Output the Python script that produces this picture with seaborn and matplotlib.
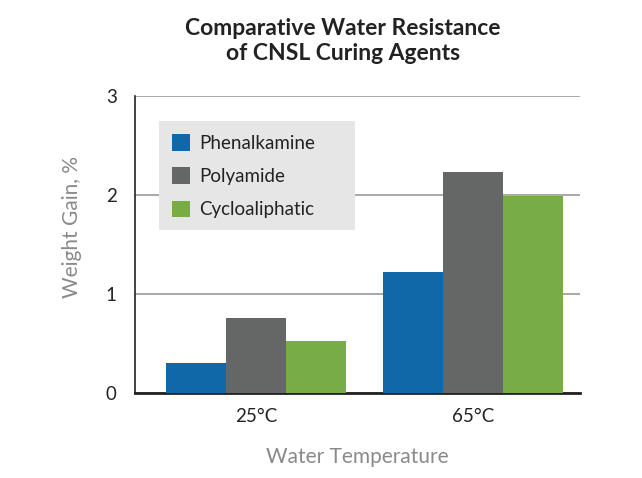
import matplotlib
matplotlib.use("Agg")
import matplotlib.pyplot as plt
from matplotlib.patches import Rectangle
import seaborn as sns
import pandas as pd

categories = ["25°C", "65°C"]
series = ["Phenalkamine", "Polyamide", "Cycloaliphatic"]
phenalkamine = [0.30, 1.22]
polyamide = [0.76, 2.23]
cycloaliphatic = [0.52, 1.99]
yticks = [0, 1, 2, 3]

rows = []
for s, vals in zip(series, [phenalkamine, polyamide, cycloaliphatic]):
    for c, v in zip(categories, vals):
        rows.append({"temp": c, "agent": s, "gain": v})
df = pd.DataFrame(rows)

sns.set_theme(style="white")
plt.rcParams['font.family'] = ['Lato', 'DejaVu Sans']

colors = ["#1068a8", "#656766", "#77ac47"]

fig = plt.figure(figsize=(6.42, 4.78), dpi=100)
ax = fig.add_axes([0.210, 0.178, 0.693, 0.621])

sns.barplot(data=df, x="temp", y="gain", hue="agent", hue_order=series,
            order=categories, palette=colors, width=0.83, saturation=1,
            ax=ax, zorder=3, linewidth=0)

ax.set_ylim(0, 3)
ax.set_xlim(-0.56, 1.49)
ax.set_yticks(yticks)
ax.set_yticklabels([str(t) for t in yticks], fontsize=13.5, color="#222222")
ax.tick_params(axis="x", labelsize=13.5, colors="#222222", length=0, pad=11)
ax.tick_params(axis="y", length=0, pad=13)
ax.yaxis.grid(True, color="#9a9a9a", linewidth=1.2, zorder=0)
ax.set_axisbelow(True)

for side in ["top", "right"]:
    ax.spines[side].set_visible(False)
ax.spines["left"].set_color("#222222")
ax.spines["left"].set_linewidth(1.2)
ax.spines["bottom"].set_color("#222222")
ax.spines["bottom"].set_linewidth(2)

ax.set_xlabel("Water Temperature", fontsize=15, color="#8a8a8a", labelpad=16)
ax.set_ylabel("Weight Gain, %", fontsize=15, color="#8a8a8a")
ax.yaxis.set_label_coords(-0.119, 0.559)

# legend background panel
ax.add_patch(Rectangle((0.054, 0.549), 0.44, 0.367, transform=ax.transAxes,
                       facecolor="#e6e6e6", edgecolor="none", zorder=4))

leg = ax.legend(loc="upper left", bbox_to_anchor=(0.083, 0.871), frameon=False,
                fontsize=13.5, handlelength=0.95, handleheight=0.95,
                labelspacing=0.83, borderpad=0, borderaxespad=0,
                handletextpad=0.5)
leg.set_zorder(5)
for t in leg.get_texts():
    t.set_color("#222222")

fig.text(0.534, 0.962, "Comparative Water Resistance\nof CNSL Curing Agents",
         ha="center", va="top", fontsize=16.5, fontweight="bold",
         color="#222222", linespacing=1.25)

fig.savefig("out.png", dpi=100)
